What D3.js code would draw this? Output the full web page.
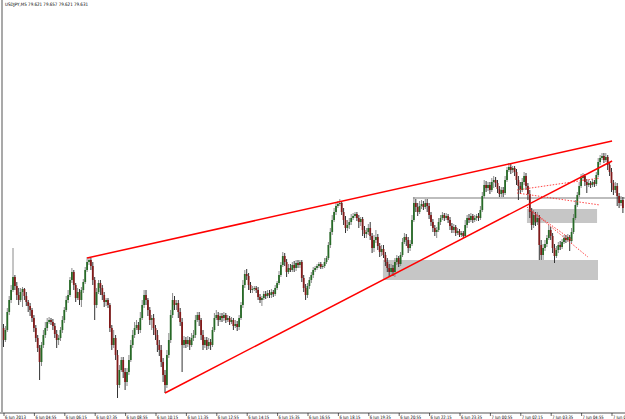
<!DOCTYPE html>
<html>
<head>
<meta charset="utf-8">
<script src="https://d3js.org/d3.v7.min.js"></script>
<style>
    body { margin: 0; background: #fff; }
    svg { display: block; }
    text { font-family: "DejaVu Sans", sans-serif; fill: #000; }
</style>
</head>
<body>
<svg></svg>
<script>
const W = 625, H = 419;

// USDJPY M5, one value per bar (open = previous close)
const firstOpen = 78.72;
const closes = [78.60,78.70,78.88,79.00,79.10,79.23,79.14,79.05,79.00,79.08,
 79.11,79.04,78.98,78.94,78.90,78.82,78.72,78.62,78.52,78.38,
 78.55,78.65,78.72,78.78,78.80,78.78,78.74,78.66,78.60,78.62,
 78.70,78.80,78.90,79.00,79.05,79.20,79.28,79.15,79.02,79.08,
 79.00,79.10,79.18,79.30,79.38,79.40,79.34,79.20,78.95,79.08,
 79.17,79.12,79.05,78.98,79.00,78.95,78.72,78.55,78.62,78.45,
 78.15,78.30,78.40,78.28,78.18,78.28,78.40,78.55,78.65,78.72,
 78.75,78.70,78.82,78.95,79.05,79.00,78.90,78.80,78.82,78.72,
 78.65,78.55,78.50,78.38,78.25,78.15,78.45,78.60,78.85,79.00,
 78.95,78.97,78.88,78.78,78.55,78.60,78.56,78.60,78.55,78.62,
 78.65,78.80,78.85,78.80,78.65,78.55,78.60,78.54,78.58,78.55,
 78.70,78.82,78.85,78.80,78.84,78.82,78.85,78.80,78.82,78.78,
 78.80,78.74,78.76,78.73,78.82,78.95,79.15,79.26,79.24,79.15,
 79.10,79.11,79.12,79.10,79.03,79.00,79.02,79.06,79.04,79.07,
 79.05,79.08,79.06,79.12,79.17,79.25,79.35,79.44,79.38,79.28,
 79.32,79.30,79.35,79.32,79.37,79.35,79.38,79.22,79.12,79.05,
 79.14,79.20,79.25,79.30,79.32,79.34,79.36,79.33,79.34,79.38,
 79.42,79.55,79.68,79.80,79.88,79.94,79.96,79.97,79.88,79.80,
 79.72,79.75,79.78,79.82,79.84,79.86,79.82,79.78,79.81,79.70,
 79.66,79.68,79.72,79.64,79.52,79.60,79.63,79.54,79.48,79.51,
 79.45,79.38,79.32,79.28,79.32,79.28,79.38,79.42,79.36,79.45,
 79.58,79.63,79.60,79.52,79.56,79.80,79.97,79.93,79.88,79.94,
 79.96,79.93,79.97,79.94,79.85,79.78,79.72,79.68,79.70,79.78,
 79.82,79.85,79.82,79.84,79.80,79.74,79.70,79.73,79.67,79.69,
 79.65,79.67,79.64,79.75,79.82,79.80,79.84,79.80,79.82,79.84,
 79.82,79.90,80.04,80.15,80.12,80.15,80.10,80.18,80.20,80.17,
 80.11,80.06,80.10,80.07,80.20,80.30,80.33,80.30,80.32,80.28,
 80.20,80.14,80.10,80.18,80.24,80.14,80.06,79.88,79.75,79.85,
 79.78,79.82,79.55,79.45,79.52,79.56,79.62,79.70,79.64,79.52,
 79.44,79.50,79.55,79.53,79.58,79.62,79.60,79.63,79.59,79.68,
 79.82,79.95,80.05,80.14,80.22,80.24,80.18,80.15,80.17,80.15,
 80.18,80.16,80.25,80.38,80.42,80.44,80.40,80.43,80.35,80.28,
 80.17,80.10,80.14,80.04,79.97,80.00,79.92];

const highs = [78.76,78.74,78.92,79.04,79.15,79.52,79.25,79.18,79.12,79.12,
 79.13,79.12,79.08,79.00,78.97,78.92,78.85,78.75,78.65,78.55,
 78.58,78.70,78.78,78.82,78.83,78.82,78.81,78.77,78.70,78.65,
 78.73,78.84,78.93,79.04,79.10,79.23,79.32,79.30,79.17,79.12,
 79.11,79.13,79.21,79.33,79.43,79.42,79.42,79.38,79.23,79.12,
 79.20,79.20,79.15,79.08,79.02,79.02,78.97,78.75,78.70,78.65,
 78.50,78.35,78.43,78.43,78.32,78.32,78.45,78.60,78.70,78.78,
 78.80,78.78,78.88,79.00,79.10,79.10,79.02,78.93,78.85,78.86,
 78.75,78.70,78.60,78.55,78.42,78.30,78.50,78.67,78.90,79.07,
 79.04,79.00,79.00,78.92,78.82,78.64,78.63,78.64,78.63,78.67,
 78.70,78.85,78.88,78.88,78.82,78.70,78.63,78.63,78.62,78.61,
 78.73,78.87,78.90,78.88,78.87,78.87,78.88,78.87,78.85,78.84,
 78.83,78.82,78.80,78.79,78.85,78.98,79.20,79.30,79.31,79.27,
 79.18,79.14,79.14,79.14,79.13,79.06,79.04,79.09,79.09,79.10,
 79.10,79.11,79.10,79.15,79.19,79.29,79.38,79.48,79.47,79.41,
 79.36,79.36,79.38,79.39,79.40,79.40,79.40,79.40,79.25,79.16,
 79.17,79.23,79.28,79.33,79.34,79.36,79.38,79.38,79.36,79.42,
 79.44,79.58,79.72,79.85,79.92,79.98,79.99,80.01,79.99,79.92,
 79.84,79.80,79.82,79.86,79.87,79.88,79.88,79.85,79.83,79.83,
 79.74,79.72,79.76,79.78,79.67,79.65,79.70,79.66,79.57,79.55,
 79.55,79.48,79.42,79.36,79.36,79.35,79.42,79.45,79.44,79.48,
 79.62,79.67,79.66,79.63,79.60,79.85,80.03,80.01,79.97,79.99,
 80.00,79.99,80.01,80.01,79.97,79.88,79.81,79.75,79.73,79.82,
 79.85,79.88,79.87,79.87,79.86,79.83,79.77,79.76,79.75,79.72,
 79.71,79.69,79.69,79.80,79.85,79.86,79.87,79.86,79.85,79.86,
 79.87,79.94,80.08,80.20,80.19,80.18,80.18,80.22,80.24,80.23,
 80.20,80.14,80.13,80.13,80.24,80.33,80.37,80.36,80.34,80.34,
 80.31,80.24,80.18,80.22,80.28,80.27,80.17,80.10,79.92,79.90,
 79.88,79.88,79.85,79.60,79.56,79.60,79.65,79.75,79.73,79.67,
 79.56,79.54,79.58,79.59,79.61,79.65,79.65,79.66,79.65,79.72,
 79.86,80.00,80.08,80.18,80.26,80.27,80.26,80.21,80.20,80.19,
 80.21,80.20,80.28,80.42,80.45,80.47,80.47,80.47,80.45,80.38,
 80.32,80.20,80.18,80.17,80.07,80.04,80.03];

const lows = [78.53,78.58,78.68,78.85,78.97,79.08,79.10,79.00,78.95,78.98,
 78.93,79.00,78.94,78.88,78.84,78.78,78.68,78.58,78.48,78.20,
 78.34,78.52,78.62,78.69,78.76,78.75,78.70,78.62,78.52,78.55,
 78.59,78.67,78.77,78.88,78.97,79.03,79.17,79.10,78.98,79.00,
 78.95,78.93,79.07,79.16,79.28,79.35,79.30,79.15,78.80,78.92,
 79.06,79.05,79.00,78.93,78.94,78.92,78.68,78.50,78.52,78.40,
 78.02,78.12,78.28,78.22,78.10,78.14,78.25,78.38,78.52,78.62,
 78.70,78.66,78.67,78.80,78.92,78.95,78.84,78.75,78.70,78.65,
 78.60,78.48,78.44,78.33,78.18,78.07,78.12,78.42,78.57,78.82,
 78.90,78.90,78.82,78.74,78.28,78.52,78.52,78.53,78.50,78.53,
 78.59,78.62,78.78,78.74,78.60,78.50,78.52,78.50,78.51,78.50,
 78.53,78.68,78.80,78.74,78.78,78.78,78.79,78.77,78.78,78.75,
 78.76,78.70,78.72,78.69,78.70,78.80,78.92,79.12,79.20,79.10,
 79.07,79.07,79.09,79.07,79.00,78.97,78.94,79.00,79.01,79.02,
 79.02,79.02,79.03,79.04,79.10,79.15,79.23,79.33,79.34,79.23,
 79.26,79.28,79.28,79.28,79.29,79.32,79.32,79.18,79.08,79.00,
 79.02,79.11,79.17,79.22,79.28,79.30,79.32,79.31,79.31,79.32,
 79.36,79.40,79.52,79.65,79.78,79.85,79.92,79.94,79.85,79.75,
 79.67,79.69,79.71,79.75,79.80,79.82,79.79,79.72,79.74,79.64,
 79.62,79.62,79.65,79.60,79.47,79.48,79.57,79.50,79.43,79.44,
 79.42,79.34,79.28,79.23,79.24,79.24,79.23,79.35,79.33,79.34,
 79.43,79.56,79.54,79.47,79.49,79.54,79.78,79.88,79.84,79.86,
 79.91,79.90,79.91,79.88,79.81,79.74,79.68,79.64,79.62,79.68,
 79.75,79.80,79.79,79.80,79.77,79.70,79.67,79.67,79.64,79.65,
 79.63,79.63,79.62,79.62,79.72,79.77,79.78,79.77,79.78,79.79,
 79.79,79.80,79.88,80.02,80.08,80.09,80.06,80.08,80.12,80.13,
 80.07,80.03,80.03,80.03,80.05,80.18,80.28,80.26,80.27,80.24,
 80.15,80.00,80.06,80.08,80.15,80.10,80.00,79.82,79.70,79.72,
 79.74,79.75,79.40,79.40,79.40,79.49,79.53,79.60,79.60,79.47,
 79.37,79.42,79.47,79.50,79.51,79.56,79.57,79.58,79.49,79.57,
 79.66,79.80,79.93,80.03,80.12,80.20,80.14,80.07,80.13,80.12,
 80.13,80.13,80.14,80.23,80.35,80.40,80.37,80.38,80.30,80.24,
 80.08,80.05,80.07,79.94,79.92,79.94,79.87];

// time labels, one every 16 bars
const timeLabels = ["6 Jun 2013","6 Jun 04:55","6 Jun 06:15","6 Jun 07:35","6 Jun 08:55",
 "6 Jun 10:15","6 Jun 11:35","6 Jun 12:55","6 Jun 14:15","6 Jun 15:35","6 Jun 16:55",
 "6 Jun 18:15","6 Jun 19:35","6 Jun 20:55","6 Jun 22:15","6 Jun 23:35","7 Jun 00:55",
 "7 Jun 02:15","7 Jun 03:35","7 Jun 04:55","7 Jun 06:15"];

const headerText = "USDJPY,M5  79.621 79.657 79.621 79.631";

// drawn objects, in bar index / price
const trendLines = [
    { x1: 44, p1: 79.42, x2: 320.3, p2: 80.59 },
    { x1: 85, p1: 78.07, x2: 320.3, p2: 80.39 }
];
const dottedLines = [
    { x1: 270.3, p1: 80.10, x2: 313.9, p2: 80.22 },
    { x1: 270.3, p1: 80.07, x2: 313.9, p2: 79.95 },
    { x1: 275.5, p1: 79.93, x2: 307.6, p2: 79.43 },
    { x1: 277.1, p1: 79.90, x2: 299.2, p2: 79.60 }
];
const levelLine = { x1: 215.5, x2: 330, p: 80.02 };
const zones = [
    { x1: 199.7, x2: 312.9, top: 79.40, bottom: 79.20 },
    { x1: 275.5, x2: 312.4, top: 79.91, bottom: 79.77 }
];

const bars = closes.map((c, i) => ({
    i: i,
    open: i === 0 ? firstOpen : closes[i - 1],
    close: c,
    high: highs[i],
    low: lows[i]
}));

const svg = d3.select("svg").attr("width", W).attr("height", H);

const x = d3.scaleLinear().domain([0, 326]).range([3.5, 622.9]);
const y = d3.scaleLinear().domain([82, 77.81]).range([0, 419]);

// zones and level behind the candles
svg.selectAll("rect.zone")
    .data(zones)
    .enter().append("rect").attr("class", "zone")
        .attr("x", d => x(d.x1))
        .attr("width", d => x(d.x2) - x(d.x1))
        .attr("y", d => y(d.top))
        .attr("height", d => y(d.bottom) - y(d.top))
        .attr("fill", "#c6c6c6");

svg.append("line")
    .attr("x1", x(levelLine.x1)).attr("x2", Math.min(W, x(levelLine.x2)))
    .attr("y1", y(levelLine.p)).attr("y2", y(levelLine.p))
    .attr("stroke", "#bdbdbd").attr("stroke-width", 2);

// candles
const candle = svg.append("g").selectAll("g")
    .data(bars)
    .enter().append("g");

candle.append("line")
    .attr("x1", d => x(d.i)).attr("x2", d => x(d.i))
    .attr("y1", d => y(d.high)).attr("y2", d => y(d.low))
    .attr("stroke", d => d.close > d.open ? "#8a8a8a" : "#333")
    .attr("stroke-width", 1);

candle.append("rect")
    .attr("x", d => x(d.i) - 0.9)
    .attr("width", 1.8)
    .attr("y", d => y(Math.max(d.open, d.close)))
    .attr("height", d => Math.max(1, Math.abs(y(d.open) - y(d.close))))
    .attr("fill", d => d.close > d.open ? "#276a27" : "#821a1a");

// trend lines
svg.selectAll("line.trend")
    .data(trendLines)
    .enter().append("line").attr("class", "trend")
        .attr("x1", d => x(d.x1)).attr("y1", d => y(d.p1))
        .attr("x2", d => x(d.x2)).attr("y2", d => y(d.p2))
        .attr("stroke", "#ff0000").attr("stroke-width", 1.5);

svg.selectAll("line.dotted")
    .data(dottedLines)
    .enter().append("line").attr("class", "dotted")
        .attr("x1", d => x(d.x1)).attr("y1", d => y(d.p1))
        .attr("x2", d => x(d.x2)).attr("y2", d => y(d.p2))
        .attr("stroke", "#ff3030").attr("stroke-width", 0.9)
        .attr("stroke-dasharray", "1.5,1.5");

// left border
svg.append("line")
    .attr("x1", 2).attr("x2", 2).attr("y1", 0).attr("y2", 413)
    .attr("stroke", "#8c8c8c").attr("stroke-width", 1.5);

// time axis
const axisY = 413;
svg.append("line")
    .attr("x1", 0).attr("x2", W).attr("y1", axisY).attr("y2", axisY)
    .attr("stroke", "#a8a8a8").attr("stroke-width", 2);

const xAxis = d3.axisBottom(x)
    .tickValues(d3.range(0, 321, 16))
    .tickFormat((d, k) => timeLabels[k])
    .tickSize(3)
    .tickPadding(0);

const ax = svg.append("g")
    .attr("transform", "translate(0," + axisY + ")")
    .call(xAxis);
ax.select(".domain").remove();
ax.selectAll(".tick line").attr("stroke", "#000").attr("stroke-width", 0.6);
ax.selectAll(".tick text")
    .attr("text-anchor", "start")
    .attr("x", 1)
    .attr("dy", "0.75em")
    .attr("font-size", 4.6)
    .attr("textLength", 21)
    .attr("lengthAdjust", "spacingAndGlyphs");

// header
svg.append("text")
    .attr("x", 5).attr("y", 6)
    .attr("font-size", 4.6)
    .attr("textLength", 83)
    .attr("lengthAdjust", "spacingAndGlyphs")
    .text(headerText);
</script>
</body>
</html>
